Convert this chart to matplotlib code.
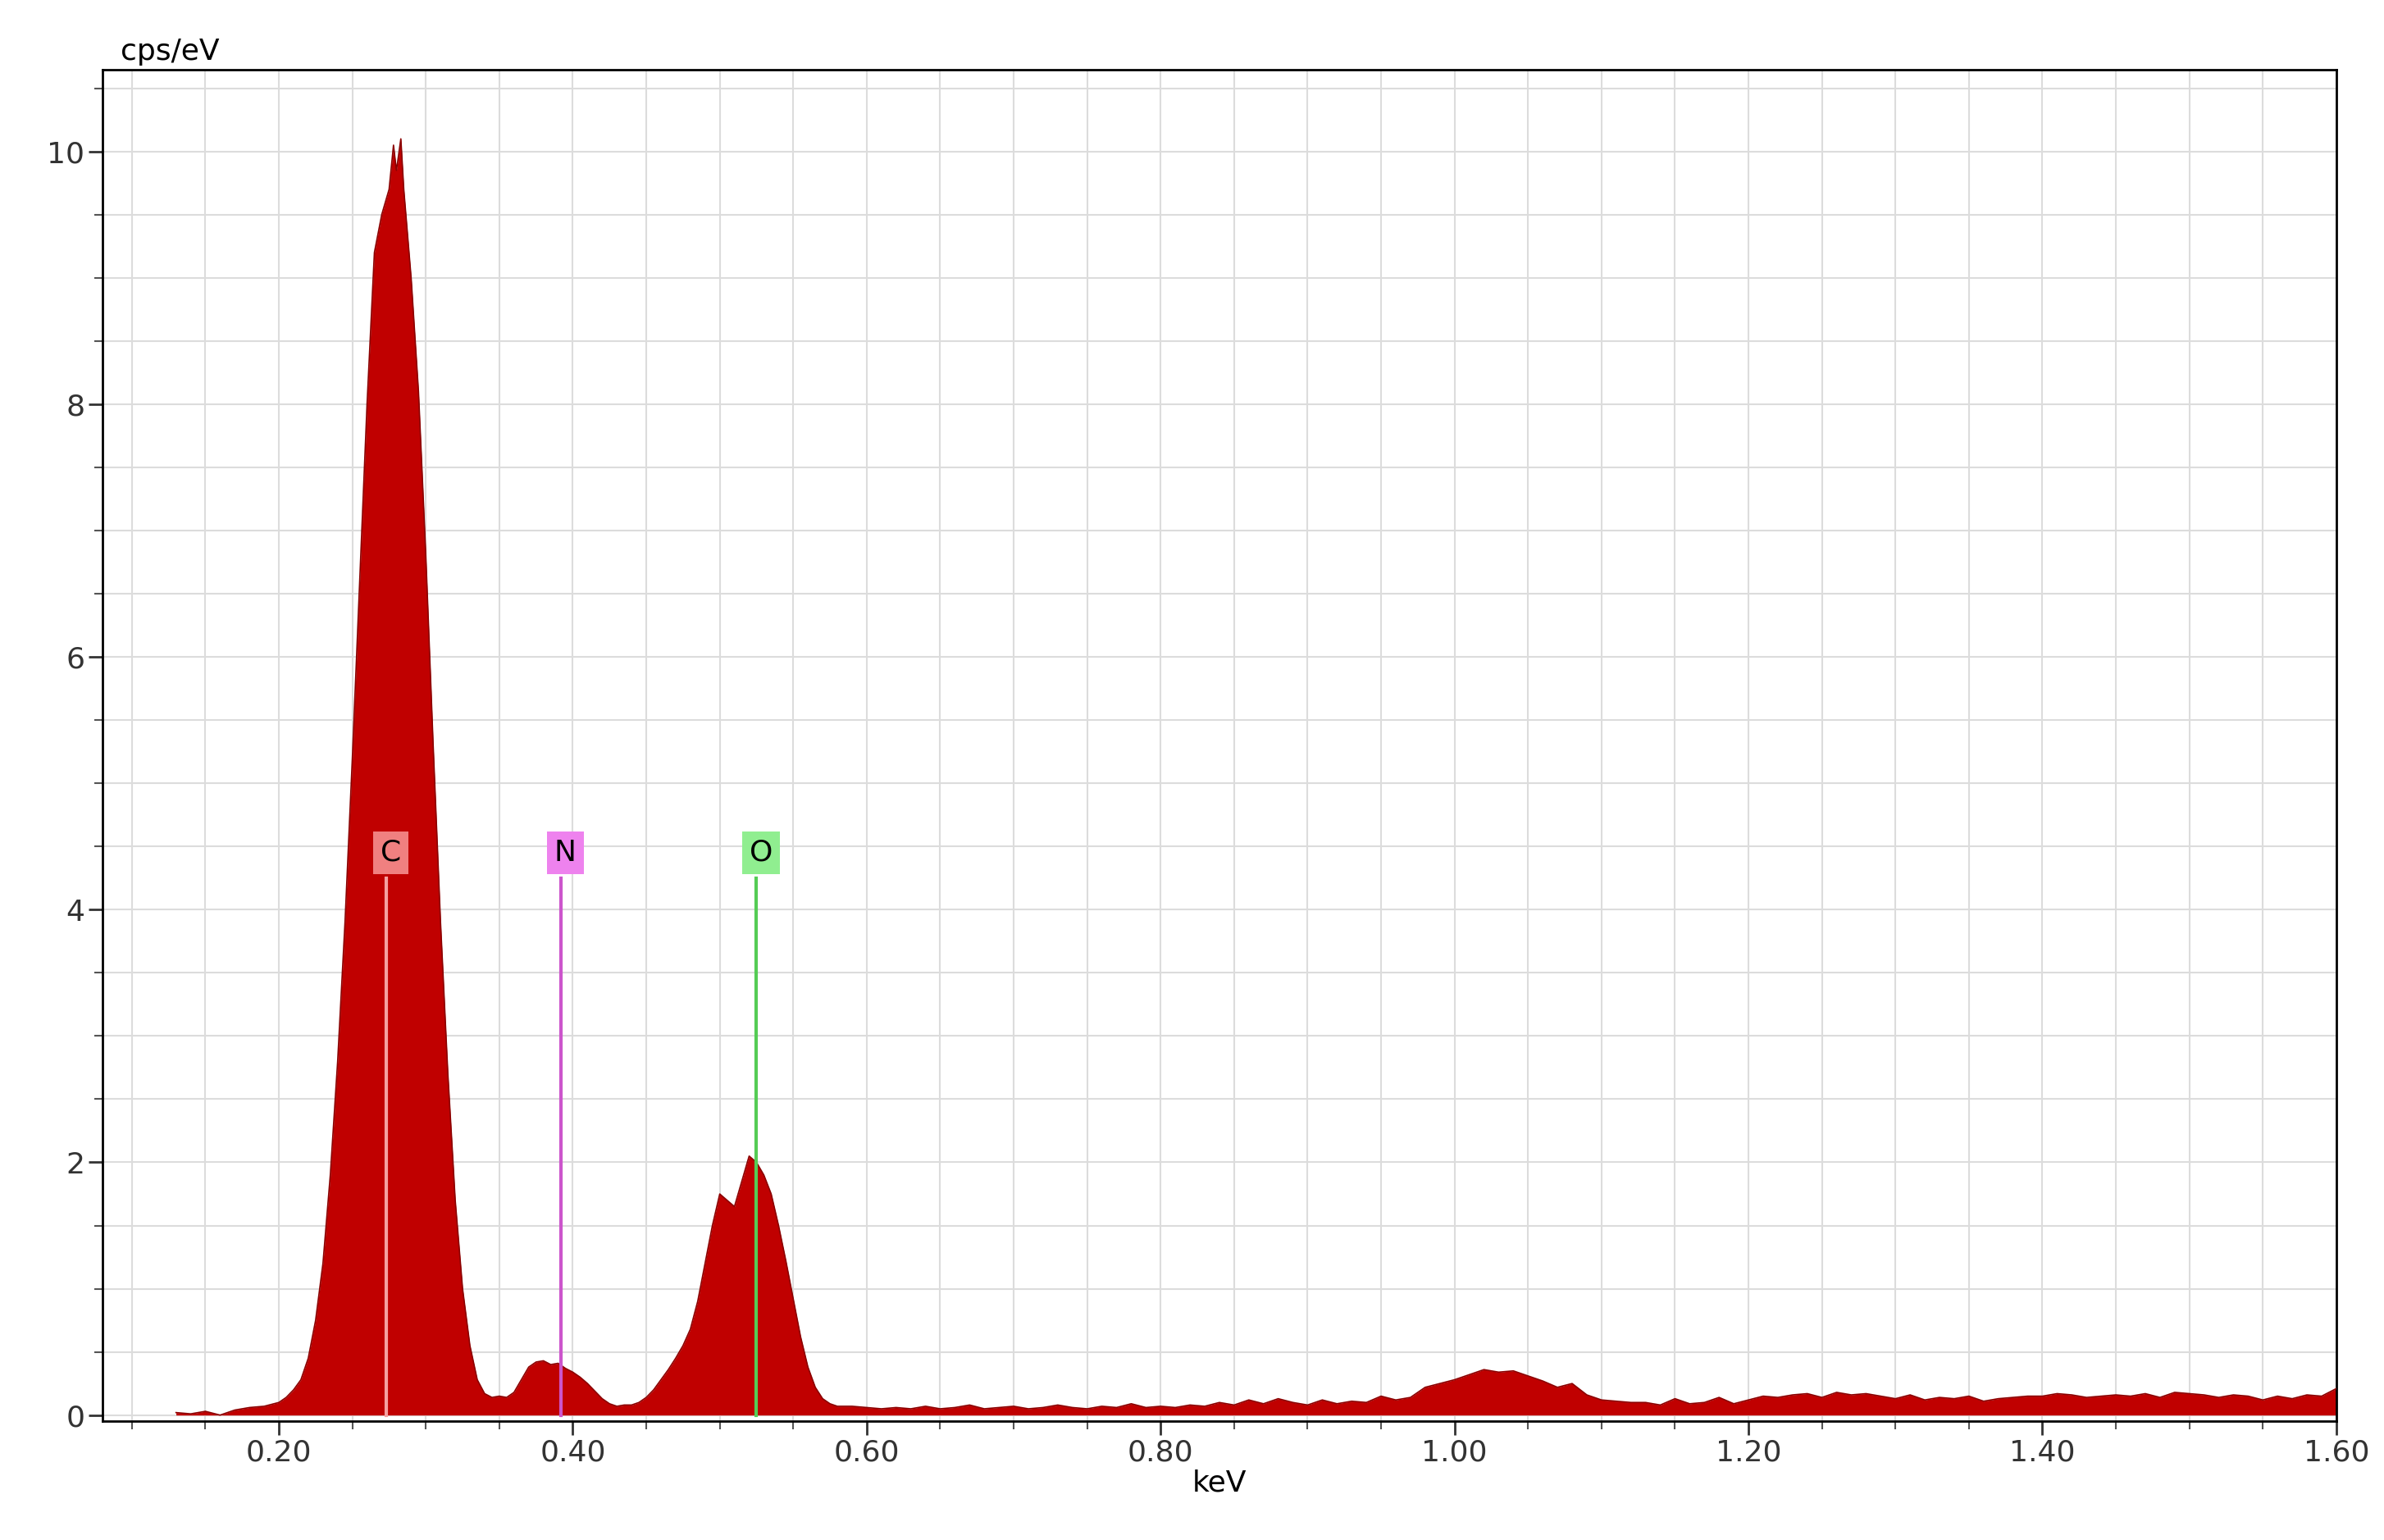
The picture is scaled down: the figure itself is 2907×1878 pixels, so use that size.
import numpy as np
import matplotlib.pyplot as plt
from matplotlib.ticker import MultipleLocator, FormatStrFormatter

# spectrum (keV, cps/eV)
peak_kev = [0.13, 0.14, 0.15, 0.16, 0.17, 0.18, 0.19, 0.20, 0.205, 0.21, 0.215, 0.22, 0.225,
            0.23, 0.235, 0.24, 0.245, 0.25, 0.255, 0.26, 0.265, 0.27, 0.275, 0.278, 0.28,
            0.283, 0.285, 0.29, 0.295, 0.30, 0.305, 0.31, 0.315, 0.32, 0.325, 0.33, 0.335,
            0.34, 0.345, 0.35, 0.355, 0.36, 0.365, 0.37, 0.375, 0.38, 0.385, 0.39, 0.395,
            0.40, 0.405, 0.41, 0.415, 0.42, 0.425, 0.43, 0.435, 0.44, 0.445, 0.45, 0.455,
            0.46, 0.465, 0.47, 0.475, 0.48, 0.485, 0.49, 0.495, 0.50, 0.505, 0.51, 0.515,
            0.52, 0.525, 0.53, 0.535, 0.54, 0.545, 0.55, 0.555, 0.56, 0.565, 0.57, 0.575,
            0.58, 0.59]
peak_cps = [0.02, 0.01, 0.03, 0.00, 0.04, 0.06, 0.07, 0.10, 0.14, 0.20, 0.28, 0.45, 0.75,
            1.20, 1.90, 2.80, 3.90, 5.20, 6.60, 8.00, 9.20, 9.50, 9.70, 10.05, 9.85,
            10.1, 9.70, 9.00, 8.10, 6.80, 5.30, 3.90, 2.70, 1.70, 1.00, 0.55, 0.28,
            0.17, 0.14, 0.15, 0.14, 0.18, 0.28, 0.38, 0.42, 0.43, 0.40, 0.41, 0.37,
            0.34, 0.30, 0.25, 0.19, 0.13, 0.09, 0.07, 0.08, 0.08, 0.10, 0.14, 0.20,
            0.28, 0.36, 0.45, 0.55, 0.68, 0.90, 1.20, 1.50, 1.75, 1.70, 1.65, 1.85,
            2.05, 2.00, 1.90, 1.75, 1.50, 1.22, 0.92, 0.62, 0.38, 0.22, 0.13, 0.09,
            0.07, 0.07]
tail_kev = [round(0.60 + 0.01 * i, 2) for i in range(101)]
tail_cps = [0.06, 0.05, 0.06, 0.05, 0.07, 0.05, 0.06, 0.08, 0.05, 0.06,
            0.07, 0.05, 0.06, 0.08, 0.06, 0.05, 0.07, 0.06, 0.09, 0.06,
            0.07, 0.06, 0.08, 0.07, 0.10, 0.08, 0.12, 0.09, 0.13, 0.10,
            0.08, 0.12, 0.09, 0.11, 0.10, 0.15, 0.12, 0.14, 0.22, 0.25,
            0.28, 0.32, 0.36, 0.34, 0.35, 0.31, 0.27, 0.22, 0.25, 0.16,
            0.12, 0.11, 0.10, 0.10, 0.08, 0.13, 0.09, 0.10, 0.14, 0.09,
            0.12, 0.15, 0.14, 0.16, 0.17, 0.14, 0.18, 0.16, 0.17, 0.15,
            0.13, 0.16, 0.12, 0.14, 0.13, 0.15, 0.11, 0.13, 0.14, 0.15,
            0.15, 0.17, 0.16, 0.14, 0.15, 0.16, 0.15, 0.17, 0.14, 0.18,
            0.17, 0.16, 0.14, 0.16, 0.15, 0.12, 0.15, 0.13, 0.16, 0.15, 0.21]

kev = np.array(peak_kev + tail_kev)
cps = np.array(peak_cps + tail_cps)

# element markers
elements = ['C', 'N', 'O']
elem_kev = [0.273, 0.392, 0.525]
box_colors = ['#f08080', '#ee82ee', '#90ee90']
line_colors = ['#f4a0a0', '#cc55cc', '#55cc55']

fig = plt.figure(figsize=(29.07, 18.78), dpi=100)
ax = fig.add_axes([0.043, 0.077, 0.937, 0.878])

ax.fill_between(kev, 0, cps, color='#c00000', linewidth=0, zorder=2)
ax.plot(kev, cps, color='#8b0000', linewidth=1.2, zorder=3)

for el, x, bc, lc in zip(elements, elem_kev, box_colors, line_colors):
    ax.plot([x, x], [0, 4.25], color=lc, linewidth=3, zorder=4)
    ax.text(x + 0.003, 4.45, el, ha='center', va='center', fontsize=26, zorder=5,
            bbox=dict(boxstyle='square,pad=0.25', facecolor=bc, edgecolor='none'))

ax.set_xlim(0.08, 1.60)
ax.set_ylim(-0.05, 10.65)
ax.xaxis.set_major_locator(MultipleLocator(0.2))
ax.xaxis.set_minor_locator(MultipleLocator(0.05))
ax.xaxis.set_major_formatter(FormatStrFormatter('%.2f'))
ax.yaxis.set_major_locator(MultipleLocator(2))
ax.yaxis.set_minor_locator(MultipleLocator(0.5))
ax.grid(which='both', color='#dcdcdc', linewidth=1.5, zorder=0)
ax.set_axisbelow(True)
ax.tick_params(which='major', labelsize=26, length=12, width=2, colors='#333333')
ax.tick_params(which='minor', length=7, width=1.5, colors='#555555')
for s in ax.spines.values():
    s.set_linewidth(2)
ax.set_xlabel('keV', fontsize=26, labelpad=2)
ax.text(0.008, 1.003, 'cps/eV', transform=ax.transAxes, fontsize=26, va='bottom')

fig.savefig('out.png', dpi=100, facecolor='white')
